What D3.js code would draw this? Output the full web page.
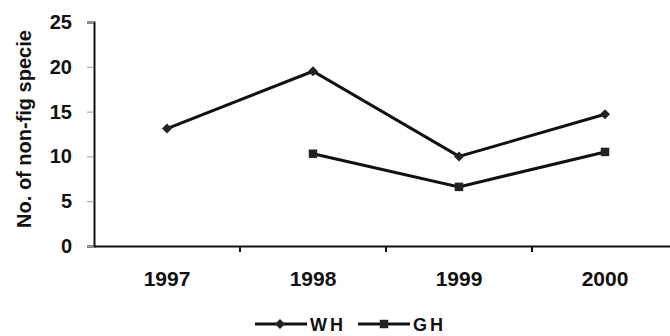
<!DOCTYPE html>
<html>
<head>
<meta charset="utf-8">
<script src="https://cdn.jsdelivr.net/npm/d3@7"></script>
<style>
  body { margin: 0; background: #fff; }
  svg { display: block; font-family: "Liberation Sans", Arial, sans-serif; }
</style>
</head>
<body>
<div class="container"></div>
<script>
// values
let years = ['1997', '1998', '1999', '2000'];
let whValues = [13.1, 19.5, 10.0, 14.7];
let ghValues = [null, 10.3, 6.6, 10.5];
let yTicks = [0, 5, 10, 15, 20, 25];
let seriesNames = ['WH', 'GH'];

let width = 670,
    height = 336,
    ink = '#111';

let svg = d3.select('.container')
            .append('svg')
            .attr('width', width)
            .attr('height', height);

let xScale = d3.scaleBand()
                .domain(years)
                .range([94, 678]);

let yScale = d3.scaleLinear()
                .domain([0, 25])
                .range([246, 22]);

// y axis
let yAxis = d3.axisLeft(yScale)
              .tickValues(yTicks)
              .tickSize(7)
              .tickPadding(15);

let gy = svg.append('g')
   .attr('transform', `translate(94, 0)`)
   .call(yAxis);
gy.select('.domain').attr('stroke', ink).attr('stroke-width', 2);
gy.selectAll('.tick line').attr('stroke', '#999').attr('stroke-width', 1);
gy.selectAll('.tick text')
  .attr('fill', ink)
  .style('font-size', '20px')
  .style('font-weight', 'bold');

// x axis: labels centred in bands, ticks on band boundaries
let xAxis = d3.axisBottom(xScale)
              .tickSize(0)
              .tickPadding(25);

let gx = svg.append('g')
   .attr('transform', `translate(0, 246)`)
   .call(xAxis);
gx.select('.domain').attr('stroke', ink).attr('stroke-width', 2);
gx.selectAll('.tick text')
  .attr('fill', ink)
  .style('font-size', '21px')
  .style('font-weight', 'bold');

svg.append('g')
   .selectAll('line')
   .data(years.slice(1))
   .enter()
   .append('line')
   .attr('x1', d => xScale(d))
   .attr('x2', d => xScale(d))
   .attr('y1', 246)
   .attr('y2', 252)
   .attr('stroke', ink)
   .attr('stroke-width', 2);

// y title
svg.append('text')
   .attr('transform', 'translate(31, 129) rotate(-90)')
   .style('text-anchor', 'middle')
   .style('font-size', '20px')
   .style('font-weight', 'bold')
   .attr('fill', ink)
   .text('No. of non-fig specie');

let cx = d => xScale(d) + xScale.bandwidth() / 2;

let line = d3.line()
             .defined(d => d.v !== null)
             .x(d => cx(d.year))
             .y(d => yScale(d.v));

let wh = years.map((y, i) => ({ year: y, v: whValues[i] }));
let gh = years.map((y, i) => ({ year: y, v: ghValues[i] }));

[wh, gh].forEach(s => {
  svg.append('path')
     .datum(s)
     .attr('d', line)
     .attr('fill', 'none')
     .attr('stroke', ink)
     .attr('stroke-width', 3);
});

let diamond = d3.symbol().type(d3.symbolSquare).size(50);
let square = d3.symbol().type(d3.symbolSquare).size(72);

svg.selectAll('.wh')
   .data(wh.filter(d => d.v !== null))
   .enter()
   .append('path')
   .attr('class', 'wh')
   .attr('d', diamond)
   .attr('transform', d => `translate(${cx(d.year)}, ${yScale(d.v)}) rotate(45)`)
   .attr('fill', '#222');

svg.selectAll('.gh')
   .data(gh.filter(d => d.v !== null))
   .enter()
   .append('path')
   .attr('class', 'gh')
   .attr('d', square)
   .attr('transform', d => `translate(${cx(d.year)}, ${yScale(d.v)})`)
   .attr('fill', '#222');

// legend
let legendX = [255, 358];
let legend = svg.selectAll('.legend')
   .data(seriesNames)
   .enter()
   .append('g')
   .attr('class', 'legend')
   .attr('transform', (d, i) => `translate(${legendX[i]}, 324)`);

legend.append('line')
      .attr('x1', 0)
      .attr('x2', 52)
      .attr('stroke', ink)
      .attr('stroke-width', 3);

legend.append('path')
      .attr('d', (d, i) => i === 0 ? diamond() : square())
      .attr('transform', (d, i) => i === 0 ? 'translate(25, 0) rotate(45)' : 'translate(26, 0)')
      .attr('fill', '#222');

legend.append('text')
      .attr('x', 55)
      .attr('y', 7)
      .style('font-size', '18px')
      .style('font-weight', 'bold')
      .style('letter-spacing', '3px')
      .attr('fill', ink)
      .text(d => d);
</script>
</body>
</html>
